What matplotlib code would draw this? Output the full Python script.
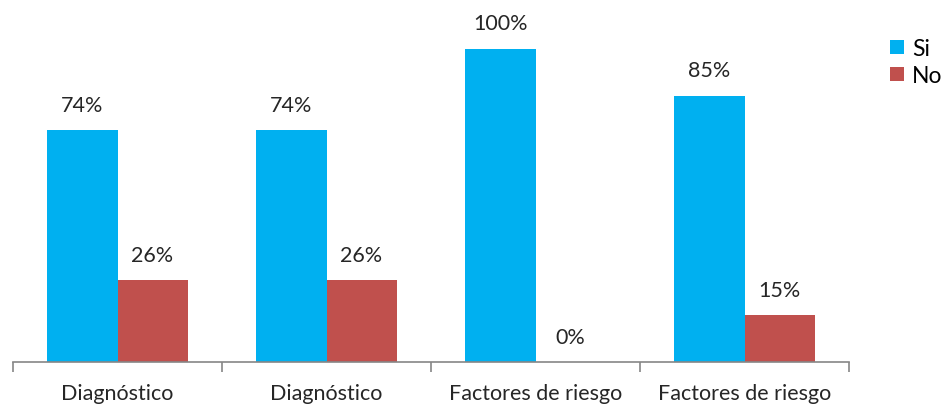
import matplotlib.pyplot as plt
import numpy as np

plt.rcParams["font.family"] = ["Lato", "DejaVu Sans"]

categories = ["Diagnóstico", "Diagnóstico", "Factores de riesgo", "Factores de riesgo"]
si_values = [74, 74, 100, 85]
no_values = [26, 26, 0, 15]

fig = plt.figure(figsize=(9.42, 4.06), dpi=100)
ax = fig.add_axes([13 / 942, 43 / 406, 836 / 942, 363 / 406])

x = np.arange(len(categories))
w = 0.335
bars_si = ax.bar(x - w / 2, si_values, w, color="#00B0F0", label="Si")
bars_no = ax.bar(x + w / 2, no_values, w, color="#C0504D", label="No")

for bars in (bars_si, bars_no):
    for b in bars:
        v = b.get_height()
        ax.annotate(f"{v:.0f}%", (b.get_x() + b.get_width() / 2, v),
                    xytext=(0, 11), textcoords="offset points",
                    ha="center", va="bottom", fontsize=15.5, color="#262626")

ax.set_xlim(-0.5, len(categories) - 0.5)
ax.set_ylim(0, 115.8)
ax.set_yticks([])
for s in ("left", "right", "top"):
    ax.spines[s].set_visible(False)
ax.spines["bottom"].set_color("#868686")
ax.spines["bottom"].set_linewidth(1.2)

ax.set_xticks(x)
ax.set_xticklabels(categories, fontsize=15.5, color="#262626")
ax.tick_params(axis="x", which="major", length=0, pad=15)
ax.set_xticks(np.arange(len(categories) + 1) - 0.5, minor=True)
ax.tick_params(axis="x", which="minor", length=7, width=1.2, color="#868686")

fig.legend(handles=[bars_si, bars_no], loc="upper left",
           bbox_to_anchor=(881 / 942, 1 - 30 / 406), frameon=False,
           fontsize=16.5, handlelength=0.6, handleheight=0.6,
           handletextpad=0.35, labelspacing=0.25, borderaxespad=0)

fig.savefig("out.png", dpi=100)
